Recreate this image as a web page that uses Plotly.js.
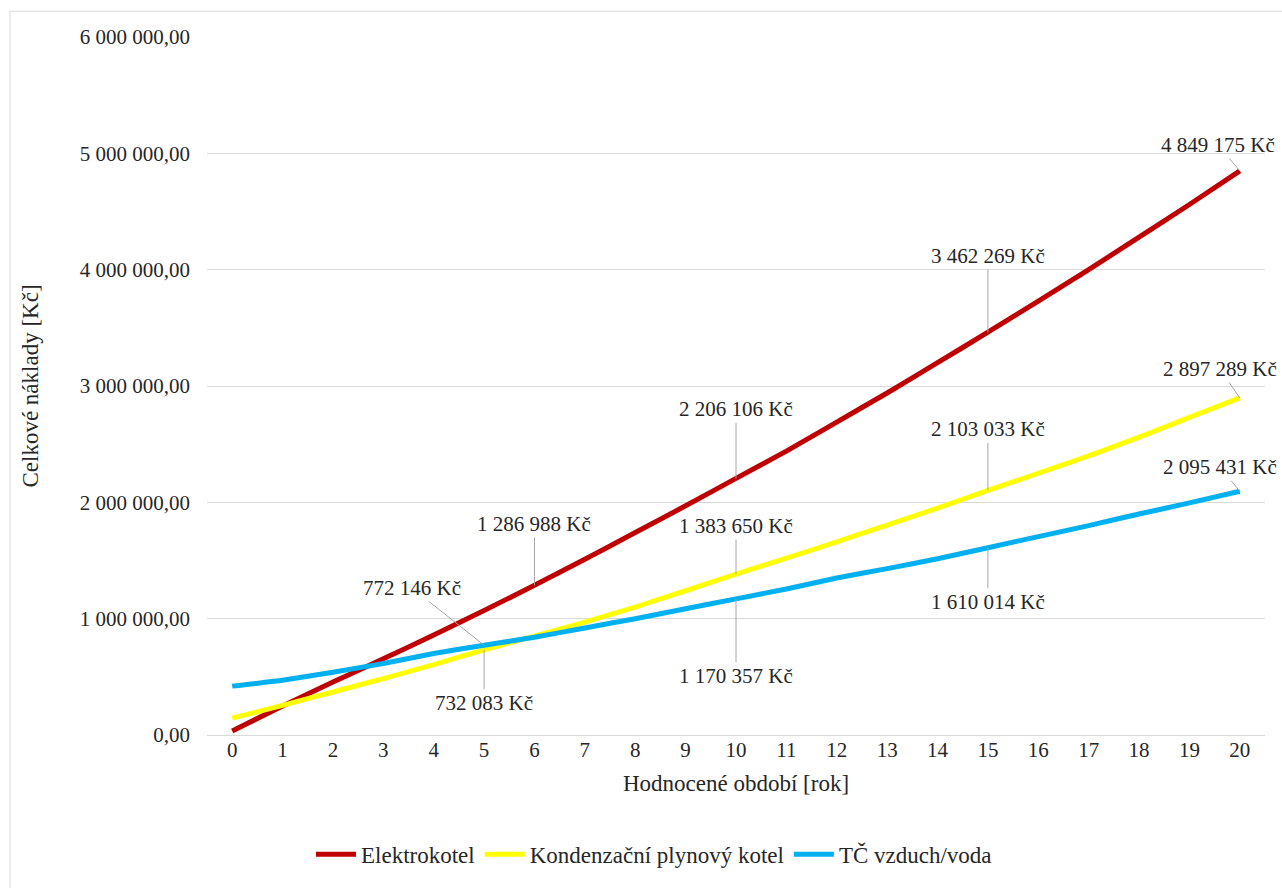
<!DOCTYPE html>
<html>
<head>
<meta charset="utf-8">
<script src="https://cdn.plot.ly/plotly-3.0.1.min.js"></script>
<style>
html,body{margin:0;padding:0;background:#fff;}
#chart{width:1282px;height:888px;}
</style>
</head>
<body>
<div id="chart"></div>
<script>
const years = [0,1,2,3,4,5,6,7,8,9,10,11,12,13,14,15,16,17,18,19,20];
const elektrokotel = [35000,250000,455000,655000,860000,1070000,1286988,1510000,1740000,1970000,2206106,2440000,2690000,2940000,3200000,3462269,3730000,4000000,4280000,4560000,4849175];
const plynovy = [145000,255000,370000,485000,605000,732083,850000,970000,1100000,1240000,1383650,1520000,1660000,1805000,1950000,2103033,2250000,2400000,2560000,2730000,2897289];
const tc = [420000,470000,540000,615000,700000,772146,840000,920000,1000000,1085000,1170357,1255000,1350000,1430000,1515000,1610014,1705000,1800000,1900000,1995000,2095431];
const seriesNames = ["Elektrokotel","Kondenzační plynový kotel","TČ vzduch/voda"];
const colors = ["#c00000","#ffff00","#00b0f0"];

// labelled points: [series index, year, ax, ay]
const labelled = [
  [0,20,-22,-26],[0,15,0,-76],[0,10,0,-69],[0,6,0,-61],
  [1,20,-20,-29],[1,15,0,-61],[1,10,0,-48],[1,5,0,53],
  [2,20,-20,-24],[2,15,0,54],[2,10,0,77],[2,5,-72,-57]
];

const FONT = "Liberation Serif, DejaVu Serif, serif";
const TXT = '#262626';

function fmt(v){
  return String(Math.round(v)).replace(/\B(?=(\d{3})+(?!\d))/g,' ') + ' Kč';
}

const data = [elektrokotel, plynovy, tc].map((ys,i)=>({
  x: years, y: ys, type:'scatter', mode:'lines', name: seriesNames[i],
  line:{color:colors[i], width:5, shape:'spline', smoothing:0.3}
}));

const allY = [elektrokotel, plynovy, tc];
const annotations = labelled.map(([s,yr,ax,ay])=>({
  x: yr, y: allY[s][years.indexOf(yr)], xref:'x', yref:'y',
  text: fmt(allY[s][years.indexOf(yr)]),
  showarrow:true, arrowhead:0, arrowwidth:1, arrowcolor:'#a6a6a6',
  ax: ax, ay: ay, standoff:0,
  font:{family:FONT, size:21, color:TXT}
}));

const layout = {
  width:1282, height:888,
  margin:{l:207, r:17, t:37, b:150},
  paper_bgcolor:'#fff', plot_bgcolor:'#fff',
  separators:', ',
  font:{family:FONT, size:21, color:TXT},
  showlegend:true,
  legend:{orientation:'h', x:0.4225, y:-0.171, xanchor:'center', yanchor:'middle',
    font:{family:FONT, size:23, color:TXT}, itemwidth:40, tracegroupgap:0},
  xaxis:{
    range:[-0.5,20.5], tickmode:'array', tickvals:years, ticktext:years.map(String),
    showgrid:false, zeroline:false, showline:false, ticks:'',
    tickfont:{family:FONT, size:21, color:TXT},
    title:{text:'Hodnocené období [rok]', font:{family:FONT, size:23, color:TXT}, standoff:13},
    fixedrange:true
  },
  yaxis:{
    range:[0,6000000], dtick:1000000, tickformat:',.2f',
    showgrid:true, gridcolor:'#d9d9d9', gridwidth:1, zeroline:true, zerolinecolor:'#d9d9d9', zerolinewidth:1,
    showline:false, ticks:'', ticklabelstandoff:16,
    tickfont:{family:FONT, size:21, color:TXT},
    title:{text:'Celkové náklady [Kč]', font:{family:FONT, size:23, color:TXT}, standoff:34},
    fixedrange:true
  },
  annotations: annotations,
  shapes:[{type:'rect', xref:'paper', yref:'paper', x0:-0.1862, x1:1.05, y0:-0.3, y1:1.037,
    line:{color:'#d9d9d9', width:1}, fillcolor:'rgba(0,0,0,0)', layer:'below'}]
};

Plotly.newPlot('chart', data, layout, {displayModeBar:false, staticPlot:true});
</script>
</body>
</html>
